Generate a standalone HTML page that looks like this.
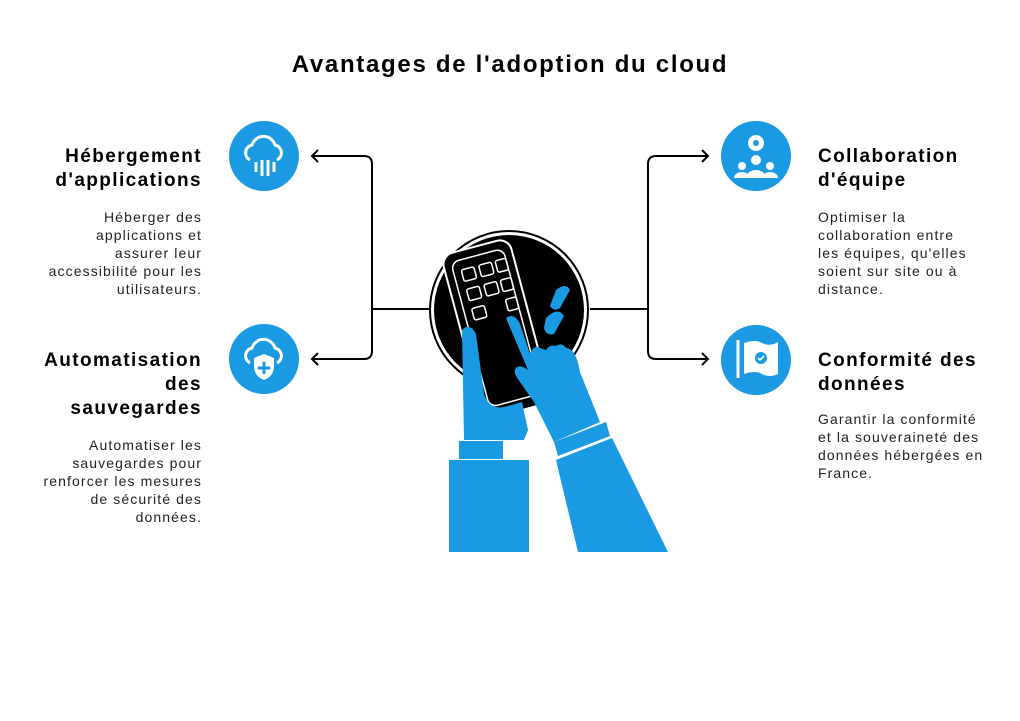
<!DOCTYPE html>
<html><head><meta charset="utf-8"><style>
body{margin:0;width:1020px;height:721px;background:#fff;position:relative;font-family:"Liberation Sans",sans-serif;color:#000;overflow:hidden}
.t{position:absolute;font-weight:bold;font-size:19px;line-height:24px;letter-spacing:1.4px}
.d{position:absolute;font-size:14px;line-height:18px;color:#222;letter-spacing:1.1px}
.r{text-align:right}
</style></head><body>
<div style="position:absolute;left:0;width:1020px;top:51px;text-align:center;font-weight:bold;font-size:24px;letter-spacing:1.7px">Avantages de l'adoption du cloud</div>

<div class="t r" style="right:818px;top:145px;width:200px">Hébergement<br>d'applications</div>
<div class="d r" style="right:818px;top:208px;width:190px">Héberger des<br>applications et<br>assurer leur<br>accessibilité pour les<br>utilisateurs.</div>
<div class="t r" style="right:818px;top:349px;width:200px">Automatisation<br>des<br>sauvegardes</div>
<div class="d r" style="right:818px;top:436px;width:190px">Automatiser les<br>sauvegardes pour<br>renforcer les mesures<br>de sécurité des<br>données.</div>

<div class="t" style="left:818px;top:145px">Collaboration<br>d'équipe</div>
<div class="d" style="left:818px;top:208px">Optimiser la<br>collaboration entre<br>les équipes, qu'elles<br>soient sur site ou à<br>distance.</div>
<div class="t" style="left:818px;top:349px">Conformité des<br>données</div>
<div class="d" style="left:818px;top:410px">Garantir la conformité<br>et la souveraineté des<br>données hébergées en<br>France.</div>

<svg width="1020" height="721" style="position:absolute;left:0;top:0">
<g fill="none" stroke="#000" stroke-width="2">
<path d="M430 309H372M312 156H364Q372 156 372 164V351Q372 359 364 359H312"/>
<path d="M318 150L312 156L318 162M318 353L312 359L318 365"/>
<path d="M590 309H648M708 156H656Q648 156 648 164V351Q648 359 656 359H708"/>
<path d="M702 150L708 156L702 162M702 353L708 359L702 365"/>
</g>
<g fill="#1a9ae3">
<circle cx="264" cy="156" r="35"/><circle cx="264" cy="359" r="35"/>
<circle cx="756" cy="156" r="35"/><circle cx="756" cy="360" r="35"/>
</g>
<g fill="none" stroke="#fff" stroke-width="3">
<path d="M250 160a8 8 0 0 1 2-15a12 12 0 0 1 23 0a8 8 0 0 1 2 15M256 172v-10M262 176v-16M268 176v-16M274 172v-10"/>
<path d="M250 363a8 8 0 0 1 2-15a12 12 0 0 1 23 0a8 8 0 0 1 2 15"/>
<path d="M738 340v38"/>
</g>
<path d="M254 358l10-4l10 4v8q0 10-10 14q-10-4-10-14z" fill="#fff"/>
<path d="M264 362v12M258 368h12" stroke="#1a9ae3" stroke-width="3"/>
<g fill="#fff"><circle cx="756" cy="143" r="8"/><circle cx="756" cy="160" r="5"/><circle cx="742" cy="166" r="4"/><circle cx="770" cy="166" r="4"/>
<path d="M746 178a10 8 0 0 1 20 0zM734 178a8 6 0 0 1 16 0zM762 178a8 6 0 0 1 16 0z"/>
<path d="M744 343q12-4 18 0q8 4 16-1v32q-8 4-16 0q-6-4-18 0z"/></g>
<circle cx="756" cy="143" r="3" fill="#1a9ae3"/>
<circle cx="761" cy="358" r="6" fill="#1a9ae3"/>
<path d="M758 358l2 2l4-4" stroke="#fff" stroke-width="1.6" fill="none"/>

<circle cx="509" cy="310" r="79" fill="#fff" stroke="#000" stroke-width="2"/>
<circle cx="509" cy="310" r="75" fill="#000"/>
<g transform="rotate(-15 500 330)">
<rect x="462" y="243" width="70" height="170" rx="12" fill="#000" stroke="#fff" stroke-width="2"/>
<rect x="470" y="252" width="54" height="150" rx="8" fill="none" stroke="#fff" stroke-width="1.5"/>
<g fill="none" stroke="#fff" stroke-width="1.5">
<rect x="478" y="262" width="13" height="12" rx="2"/><rect x="496" y="262" width="13" height="12" rx="2"/><rect x="513" y="262" width="11" height="12" rx="2"/>
<rect x="478" y="282" width="13" height="12" rx="2"/><rect x="496" y="282" width="13" height="12" rx="2"/><rect x="513" y="282" width="11" height="12" rx="2"/>
<rect x="478" y="302" width="13" height="12" rx="2"/><rect x="513" y="302" width="11" height="12" rx="2"/>
</g></g>
<g fill="#1a9ae3">
<path d="M462 330q8-8 14 4l8 60q6 18 24 12l14 -4l6 28l-4 10h-60z"/>
<rect x="459" y="441" width="44" height="18"/>
<rect x="449" y="460" width="80" height="92"/>
<path d="M506 318q8-6 14 6l10 30q4-10 10-6l6 2q4-6 10-4q6-4 10 2q10 0 14 24l20 50l-46 20l-20-40l-14-20q-8-10-4-14q4-4 12 2z"/>
<path d="M556 290q10-8 14 0l-10 18q-6 4-10-2z M546 318q12-12 18-2l-10 18q-8 2-10-6z"/>
<path d="M554 442l52-20l4 14l-52 20z"/>
<path d="M556 460l56-22l56 114h-90z"/>
</g>
</svg>
</body></html>
